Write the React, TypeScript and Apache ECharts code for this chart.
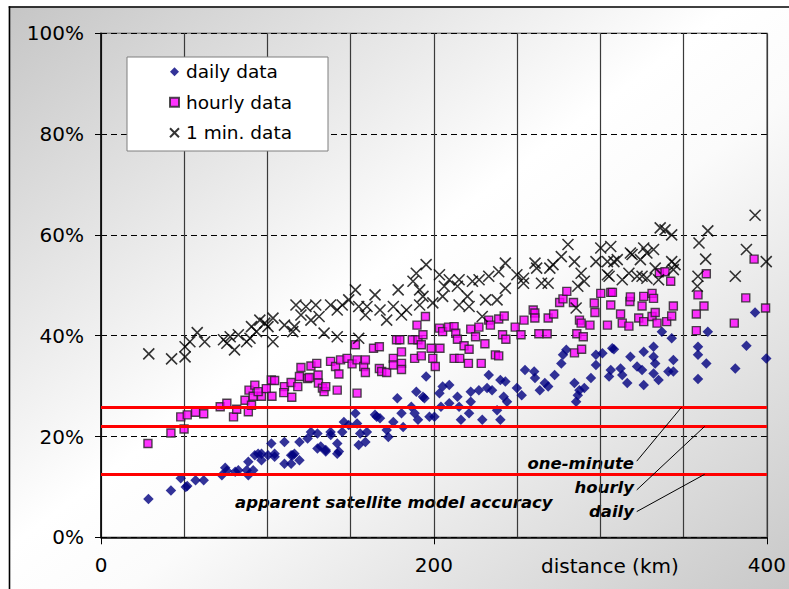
import React, { useEffect, useRef } from "react";
import * as echarts from "echarts";

// distance (km), relative error (%)
const dailyData: number[][] = [
  [28.5,7.6],[42,9.3],[47.9,11.7],[50.9,10],[51.8,10.2],[56.8,11.3],[61.7,11.3],[72.6,12.3],[74.6,13.8],[75.6,13.2],
  [80.6,13],[82.5,13.3],[87.5,13.3],[88.5,12.3],[88.5,15],[91.4,13.3],[92.4,16.3],[94.4,16.6],[96.4,16.6],[96.4,15.3],
  [100.3,16.3],[102.3,18.6],[104.3,16],[104.3,16.6],[110.2,18.9],[110.2,14.6],[114.2,16.3],[114.2,14.6],[115.2,16.3],[116.2,16.6],
  [119.2,18.9],[119.2,15.3],[124.1,19.6],[126.1,20.9],[130,20.6],[130,17.6],[132,18],[135,17.3],[135,17],[137.9,20.9],
  [138,20.3],[141.9,18.6],[141.9,16.6],[142.9,17],[144.9,20.9],[145.9,22.9],[148.8,22.3],[152.8,24.6],[153.8,22.6],[154.8,18.3],
  [155.7,20.6],[158.8,18.9],[159.7,20.9],[164.6,24.3],[165.6,23.9],[167.6,23.6],[171.6,21.3],[172.6,19.9],[175.6,22.9],[178,27.6],
  [180.5,24.6],[181.5,21.9],[186.4,25.9],[188.4,24.6],[189.4,28.9],[190.4,23.3],[193.4,27.9],[194.3,27.6],[195.3,31.9],[197.3,23.9],
  [200.3,23.9],[203.3,28.6],[204.2,25.9],[205.2,29.9],[209.2,30.2],[209.2,26.6],[214.1,27.9],[215.1,25.9],[216.2,23.3],[221.1,24.6],
  [222.1,28.9],[222.1,26.9],[227,29.2],[229,23.3],[231.9,29.6],[232.9,32.2],[234.9,29.2],[237.9,25.2],[239.9,31.2],[239.9,23.3],
  [241.9,27.9],[242.9,30.9],[243.9,26.9],[249.8,29.6],[252.7,28.2],[254.7,33.2],[260.2,32.9],[260.7,31.6],[263.6,29.2],[266.6,30.6],
  [268.6,29.9],[272.5,32.2],[276.5,34.5],[277.5,36.2],[279.5,37.2],[284.4,30.6],[285.4,26.9],[286.4,28.2],[287.4,29.2],[290.3,29.6],
  [294.3,31.6],[297.3,36.2],[297.3,34.2],[301.2,36.5],[305.2,31.9],[306.2,33.2],[307.1,37.5],[308.1,37.3],[312.1,33.5],[313.1,32.2],
  [316.1,30.6],[318,35.8],[322,33.9],[325,33.2],[326,36.8],[326,30.2],[331.9,37.8],[331.9,35.8],[332.9,34.5],[331.9,32.5],
  [334.9,31.2],[336.9,40.8],[340.8,32.9],[342.8,39.5],[343.8,35.2],[343.8,32.9],[358.6,37.8],[358.6,36.2],[358.6,31.4],[363.6,34.5],
  [364.5,40.8],[381,33.5],[387.7,38],[392.9,44.6],[399.6,35.5]
];

const hourlyData: number[][] = [
  [28.2,18.6],[42,20.7],[49.9,21.5],[47.9,23.9],[51.8,24.3],[56.8,24.8],[61.7,24.5],[71.6,25.9],[75.6,26.6],[79.6,23.9],
  [81.5,25.4],[86.5,27.2],[88.5,24.9],[90.4,26.2],[88.9,29.2],[92.4,30.2],[91.4,28],[96.4,28],[94.4,28.9],[99.3,29.5],
  [102.3,31.2],[104.3,31.1],[102.7,28],[110.2,29.9],[109.8,28.7],[114.6,27.8],[114.2,30.7],[118.2,29.9],[119.2,31.9],[120.1,33.7],
  [124.1,31.5],[125.1,31.7],[126.1,34],[129.6,34.5],[130.4,32.2],[130.6,30.6],[133,29.6],[134,28.9],[135,29.9],[137.9,34.9],
  [140.9,33.9],[141.9,29.2],[142.9,32.4],[143.9,35.2],[147.8,35.5],[150.8,34.4],[152.8,38.2],[153.8,28.6],[153.8,35.2],[157.8,33.9],
  [158.8,35.2],[158.8,32.7],[163.7,37.5],[167.2,37.8],[167.2,33.5],[168.6,32.9],[171.6,32.7],[175.6,35.5],[175.6,34.2],[177.5,39.2],
  [179.5,39.2],[180.5,36.8],[180.5,34.5],[180.5,33.3],[187,39.2],[188.4,35.5],[189.8,42.1],[190.4,39.2],[192.4,36],[192.4,38.2],
  [193.4,40.2],[194.9,43.8],[198.3,37.5],[199.3,35.5],[200.8,33.9],[203.6,37.5],[203.3,41.5],[205.2,40.8],[208.8,41.7],[212.1,41.8],
  [212.1,35.5],[213.1,40.5],[214.1,39.3],[218.1,38],[221.1,37.3],[215.5,35.5],[220.7,34.5],[222.1,41.3],[225,39.8],[227,41.7],
  [230.6,38.4],[228.4,34.5],[232.9,43.1],[233.9,42.1],[236.9,36.2],[238.9,36],[238.9,43.3],[242.2,43.9],[241.2,40.2],[243.2,39.3],
  [248.8,41.7],[252.3,40.2],[254.1,43.1],[259.6,45.1],[260.6,44.5],[260.6,43.5],[263,40.4],[268,40.4],[268.6,43.5],[271.9,44.3],
  [275.5,46.6],[277.5,47.3],[279.8,48.8],[283.8,46.6],[287.4,43.1],[288.4,42.5],[293.7,42.1],[285.8,40.4],[289.7,39.8],[284.4,36.6],
  [288.7,37.3],[296.3,46.5],[296.7,44.6],[300.2,48.4],[304.2,42.1],[306.2,48.6],[306.2,46.1],[307.2,48.6],[312.1,44.3],[313.1,42.5],
  [317.1,41.9],[317.7,46.8],[318,47.7],[325,45.9],[326,47.8],[331,48.4],[331.9,47.4],[323,43.5],[326,42.8],[331,43.8],
  [332.9,44.6],[334,42.5],[339.8,42.8],[342.8,43.9],[343.8,45.9],[335.4,52.5],[338.8,52.7],[342.2,50.8],[358.6,48.1],[362.2,45.9],
  [363.6,52.3],[357.6,44.3],[357.6,41],[387.3,47.5],[380.4,42.5],[392.3,55.2],[399.2,45.5]
];

const minuteData: number[][] = [
  [28.7,36.4],[42.4,35.4],[50.5,35.8],[50.5,37.8],[53.4,38.8],[57.8,40.6],[62.3,38.8],[73.6,39.2],[75.6,38.5],[80.2,37.2],
  [77.6,39.8],[82.5,40.2],[87.5,38.8],[89.5,39.5],[90.4,41.8],[93.4,40.8],[95.4,43.1],[98.4,42.5],[100.3,41.8],[103.3,38.8],
  [103.3,43.5],[110.2,42.1],[115.2,40.8],[117.1,46.1],[116.2,41.8],[120.1,44.1],[123.1,45.8],[126.1,43.1],[129,46.1],[131,43.8],
  [134,40.5],[141.9,39.8],[137.9,46.1],[141.9,45.1],[144.9,46.1],[148.8,47.1],[152.8,49.1],[154.8,45.8],[158.8,44.1],[159.8,45.8],
  [164.6,48.1],[167.6,45.1],[171.6,43.1],[154.8,39.5],[175.6,45.8],[178.5,49.1],[180.5,44.1],[183.5,45.1],[187.4,50.8],[189.4,52.4],
  [191.4,49.1],[193.4,47.8],[195.3,54.1],[199.3,46.5],[203.3,52.1],[206.2,49.8],[209.2,51.1],[205.2,47.8],[191.4,46.1],[215.1,51.1],
  [214.1,49.8],[215.1,46.1],[220.1,47.8],[221.1,45.8],[223.1,50.8],[227.1,51.1],[231,47.1],[229,43.8],[232.9,51.8],[237.9,47.1],
  [238.9,52.7],[242.9,54.4],[242.9,49.4],[249.8,52.1],[253.8,50.4],[253.8,51.4],[260.7,54.4],[261.7,53.4],[264.6,50.4],[268.6,50.4],
  [269.6,53.4],[271.5,54.1],[276.5,55.7],[280.5,58.1],[284.4,54.7],[286.4,49.8],[288.4,52.4],[290.3,50.8],[285.4,45.5],[297.3,54.7],
  [300.2,57.4],[304.2,52.1],[306.2,57.7],[304.2,54.7],[308.1,54.7],[310.1,55.1],[318,56.4],[319,56.1],[305.2,51.8],[313.1,51.1],
  [317.1,52.4],[322,51.8],[326,57.4],[327.9,56.4],[331.9,57.1],[324,55.1],[325,51.8],[327.9,51.4],[332.9,53.4],[334.9,51.1],
  [335.9,61.4],[338.8,61],[342.8,60],[342.8,54.7],[344.8,54.1],[343.8,53.1],[359.2,58.4],[358.6,51.8],[358.2,49.8],[364.5,60.8],
  [363.2,55.2],[381,51.8],[387.7,57.1],[392.9,63.9],[399.6,54.7]
];

const seriesNames = ["daily data", "hourly data", "1 min. data"];
// apparent satellite model accuracy: one-minute, hourly, daily (%)
const accuracyLevels = [25.8, 22.0, 12.5];
const accuracyLabels = ["one-minute", "hourly", "daily"];
// leader lines from label to accuracy line: [x1, y1, x2, y2] in data units
const leaderLines = [
  [321.8, 15.1, 348.7, 25.8],
  [321.8, 9.4, 362.6, 22.0],
  [321.8, 5.1, 362.6, 12.5]
];
const xTickLabels = [0, 200, 400];

const FONT = "DejaVu Sans";

export default function App() {
  const ref = useRef<HTMLDivElement>(null);
  useEffect(() => {
    if (!ref.current) return;
    const chart = echarts.init(ref.current, undefined, { renderer: "svg" });
    const bg = new echarts.graphic.LinearGradient(0, 0, 1, 1, [
      { offset: 0, color: "#c4c4c4" },
      { offset: 0.47, color: "#ffffff" },
      { offset: 0.58, color: "#fbfbfb" },
      { offset: 1, color: "#c8c8c8" }
    ]);
    const option: any = {
      animation: false,
      backgroundColor: bg,
      textStyle: { fontFamily: FONT },
      grid: {
        left: 101, right: 14.3, top: 33.3, bottom: 51.7,
        show: true, borderColor: "#888", borderWidth: 1.5, backgroundColor: "transparent"
      },
      xAxis: {
        type: "value", min: 0, max: 400, interval: 200,
        axisLine: { show: true, onZero: false, lineStyle: { color: "#000", width: 1.5 } },
        axisTick: { show: true, length: 7, lineStyle: { color: "#000", width: 1 } },
        axisLabel: {
          fontSize: 20, color: "#000", margin: 18, fontFamily: FONT,
          formatter: (v: number) => (xTickLabels.indexOf(v) >= 0 ? String(v) : "")
        },
        splitLine: { show: true, lineStyle: { color: "#3a3a3a", width: 1.2 } },
        minorTick: { show: false, splitNumber: 4 },
        minorSplitLine: { show: true, lineStyle: { color: "#3a3a3a", width: 1.2 } }
      },
      yAxis: {
        type: "value", min: 0, max: 100, interval: 20,
        axisLine: { show: true, lineStyle: { color: "#000", width: 1.5 } },
        axisTick: { show: true, length: 6, lineStyle: { color: "#000", width: 1 } },
        axisLabel: { formatter: "{value}%", fontSize: 20, color: "#000", margin: 17, fontFamily: FONT },
        splitLine: {
          show: true,
          lineStyle: { color: "#000", type: [6, 4], width: 1 }
        }
      },
      legend: {
        orient: "vertical",
        left: 127, top: 57,
        padding: [4.7, 36, 8.3, 42],
        itemWidth: 9, itemHeight: 9, itemGap: 10.5,
        backgroundColor: "#fff", borderColor: "#7f7f7f", borderWidth: 1,
        textStyle: { fontFamily: FONT, fontSize: 18.5, color: "#000", lineHeight: 20, padding: [0, 0, 0, 2] },
        data: seriesNames
      },
      series: [
        {
          name: seriesNames[0], type: "scatter", data: dailyData,
          symbol: "diamond", symbolSize: 10.5,
          itemStyle: { color: "#000080" }
        },
        {
          name: seriesNames[1], type: "scatter", data: hourlyData,
          symbol: "rect", symbolSize: 8,
          itemStyle: { color: "#ff00ff", borderColor: "#222", borderWidth: 1.4 }
        },
        {
          name: seriesNames[2], type: "scatter", data: minuteData,
          symbol: "path://M0,0L10,10M10,0L0,10", symbolSize: 11,
          itemStyle: { color: "#000", borderColor: "#000", borderWidth: 1.6 },
          markLine: {
            silent: true, symbol: "none", label: { show: false },
            data: [
              ...accuracyLevels.map((v) => ({ yAxis: v, lineStyle: { color: "#ff0000", width: 3, type: "solid" } })),
              ...leaderLines.map((l) => [
                { coord: [l[0], l[1]], lineStyle: { color: "#000", width: 1, type: "solid" } },
                { coord: [l[2], l[3]] }
              ])
            ]
          }
        }
      ],
      graphic: [
        { type: "rect", silent: true, shape: { x: 0, y: 0, width: 789, height: 6.2 }, style: { fill: "#fff" } },
        { type: "rect", silent: true, shape: { x: 0, y: 0, width: 8.7, height: 589 }, style: { fill: "#fff" } },
        { type: "line", silent: true, shape: { x1: 8.7, y1: 7, x2: 789, y2: 7 }, style: { stroke: "#000", lineWidth: 1.6 } },
        { type: "line", silent: true, shape: { x1: 9.5, y1: 6.2, x2: 9.5, y2: 589 }, style: { stroke: "#000", lineWidth: 1.6 } },
        {
          type: "text", x: 235, y: 502, silent: true,
          style: { text: "apparent satellite model accuracy", fill: "#000", font: `italic bold 16.5px "${FONT}"`, align: "left", verticalAlign: "middle" }
        },
        ...accuracyLabels.map((t, i) => ({
          type: "text", x: 634, y: [463, 487, 511][i], silent: true,
          style: { text: t, fill: "#000", font: `italic bold 16.5px "${FONT}"`, align: "right", verticalAlign: "middle" }
        })),
        {
          type: "text", x: 541, y: 566, silent: true,
          style: { text: "distance (km)", fill: "#000", font: `20px "${FONT}"`, align: "left", verticalAlign: "middle" }
        }
      ]
    };
    chart.setOption(option);
    return () => chart.dispose();
  }, []);
  return <div ref={ref} style={{ position: "fixed", left: 0, top: 0, width: 789, height: 589 }} />;
}
